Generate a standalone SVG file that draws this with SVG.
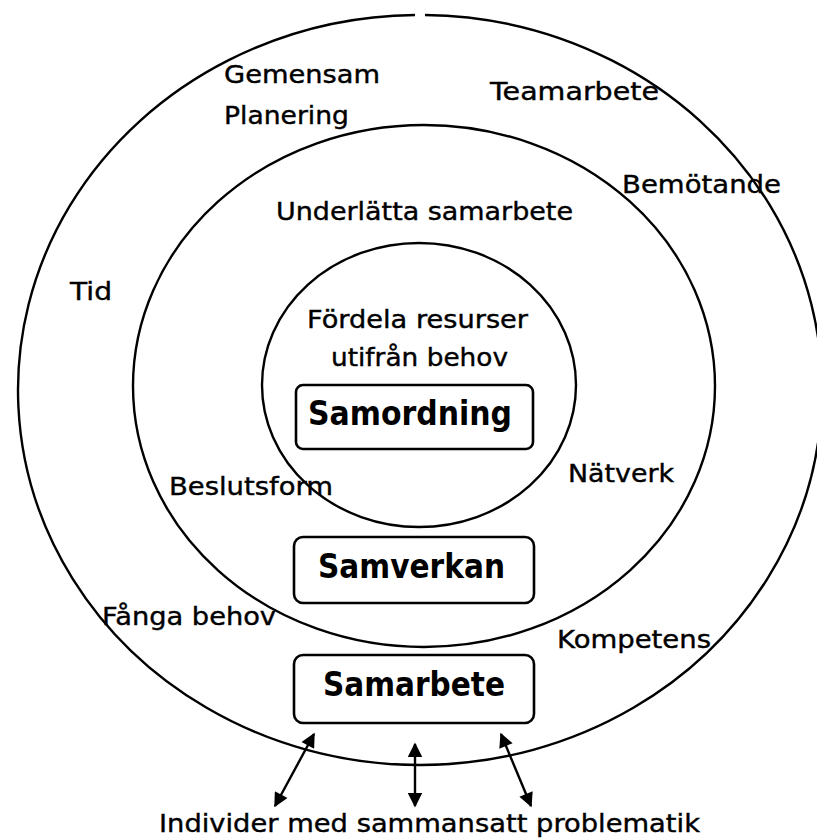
<svg xmlns="http://www.w3.org/2000/svg" width="817" height="838" viewBox="0 0 817 838">
<style>
.ring{fill:none;stroke:#000;stroke-width:2.4}
.box{fill:#fff;stroke:#000;stroke-width:2.6}
.lbl{font-family:"DejaVu Sans",sans-serif;font-size:25px;fill:#000;stroke:#000;stroke-width:0.4}
.ttl{font-family:"DejaVu Sans",sans-serif;font-size:33px;font-weight:bold;fill:#000}
.conn{stroke:#000;stroke-width:2.4;fill:none;marker-start:url(#ah);marker-end:url(#ah)}
</style>
<defs>
<marker id="ah" viewBox="0 0 10 10" refX="9" refY="5" markerWidth="6.5" markerHeight="6" orient="auto-start-reverse" markerUnits="strokeWidth">
<path d="M0,0 L10,5 L0,10 z" fill="#000"/>
</marker>
</defs>
<rect width="817" height="838" fill="#fff"/>
<g id="outer-ring">
<path class="ring" d="M425,15 A402,375 0 1 1 415,15"/>
<text class="lbl" x="224" y="83" textLength="156" lengthAdjust="spacingAndGlyphs">Gemensam</text>
<text class="lbl" x="224" y="124" textLength="125" lengthAdjust="spacingAndGlyphs">Planering</text>
<text class="lbl" x="490" y="100" textLength="169" lengthAdjust="spacingAndGlyphs">Teamarbete</text>
<text class="lbl" x="622" y="193" textLength="159" lengthAdjust="spacingAndGlyphs">Bemötande</text>
<text class="lbl" x="70" y="300" textLength="42" lengthAdjust="spacingAndGlyphs">Tid</text>
<text class="lbl" x="102" y="625" textLength="174" lengthAdjust="spacingAndGlyphs">Fånga behov</text>
<text class="lbl" x="557" y="648" textLength="154" lengthAdjust="spacingAndGlyphs">Kompetens</text>
</g>
<g id="middle-ring">
<ellipse class="ring" cx="424" cy="386" rx="291" ry="261"/>
<text class="lbl" x="276" y="220" textLength="297" lengthAdjust="spacingAndGlyphs">Underlätta samarbete</text>
<text class="lbl" x="169" y="495" textLength="164" lengthAdjust="spacingAndGlyphs">Beslutsform</text>
<text class="lbl" x="568" y="482" textLength="106" lengthAdjust="spacingAndGlyphs">Nätverk</text>
</g>
<g id="inner-ring">
<ellipse class="ring" cx="419" cy="385" rx="157" ry="142"/>
<text class="lbl" x="307" y="328" textLength="221" lengthAdjust="spacingAndGlyphs">Fördela resurser</text>
<text class="lbl" x="331" y="366" textLength="177" lengthAdjust="spacingAndGlyphs">utifrån behov</text>
</g>
<g id="samordning">
<rect class="box" x="296" y="385" width="237" height="64" rx="7"/>
<text class="ttl" x="308" y="425" textLength="204" lengthAdjust="spacingAndGlyphs">Samordning</text>
</g>
<g id="samverkan">
<rect class="box" x="294" y="537" width="240" height="66" rx="9"/>
<text class="ttl" x="318" y="578" textLength="187" lengthAdjust="spacingAndGlyphs">Samverkan</text>
</g>
<g id="samarbete">
<rect class="box" x="294" y="655" width="240" height="68" rx="9"/>
<text class="ttl" x="323" y="696" textLength="182" lengthAdjust="spacingAndGlyphs">Samarbete</text>
</g>
<g id="individer">
<text class="lbl" x="159" y="832" textLength="541" lengthAdjust="spacingAndGlyphs">Individer med sammansatt problematik</text>
</g>
<g id="connectors">
<line class="conn" x1="314" y1="734" x2="275" y2="806"/>
<line class="conn" x1="415" y1="744" x2="415" y2="806"/>
<line class="conn" x1="501" y1="734" x2="531" y2="806"/>
</g>
</svg>
